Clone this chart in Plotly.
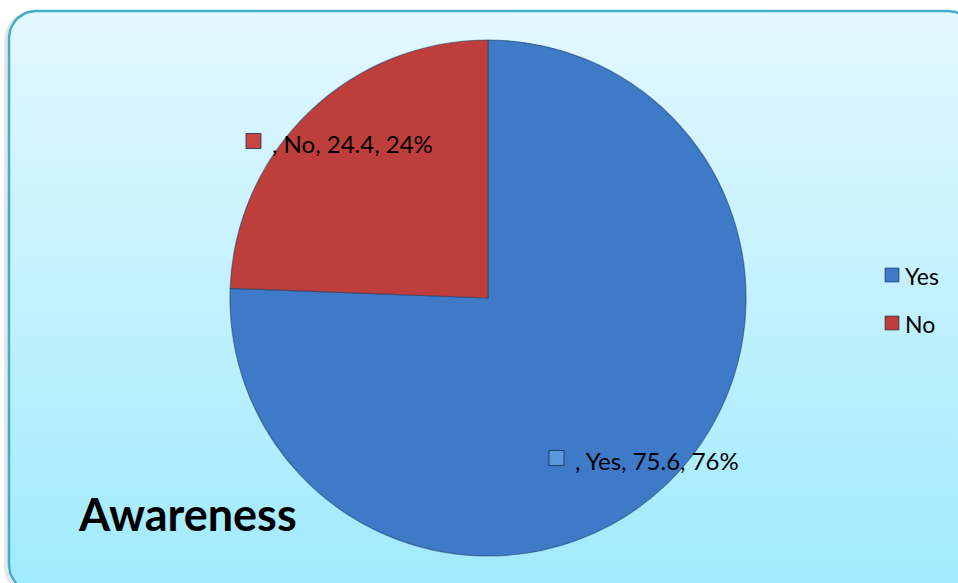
import plotly.graph_objects as go
import numpy as np

# ---- data ----
labels = ["Yes", "No"]
values = [75.6, 24.4]
pct_labels = ["76%", "24%"]
colors = ["#3F7AC8", "#BE3E3B"]
marker_colors = ["#5B97DD", "#C94542"]
title_text = "Awareness"

W, H = 958, 583

fig = go.Figure()

# rounded background panel (pixel coordinates on hidden axes)
def rounded_rect(x0, y0, x1, y1, r, n=12):
    xs, ys = [], []
    corners = [
        (x1 - r, y0 + r, -90, 0),
        (x1 - r, y1 - r, 0, 90),
        (x0 + r, y1 - r, 90, 180),
        (x0 + r, y0 + r, 180, 270),
    ]
    for cx, cy, a0, a1 in corners:
        for t in np.linspace(np.radians(a0), np.radians(a1), n):
            xs.append(cx + r * np.cos(t))
            ys.append(cy + r * np.sin(t))
    xs.append(xs[0]); ys.append(ys[0])
    return xs, ys

sx, sy = rounded_rect(6, 13, 973, 594, 27)
fig.add_trace(go.Scatter(x=sx, y=sy, mode="lines", line=dict(color="rgba(0,0,0,0.10)", width=4),
                         hoverinfo="skip", showlegend=False))
bx, by = rounded_rect(9, 11, 975, 592, 27)
fig.add_trace(go.Scatter(
    x=bx, y=by, mode="lines", fill="toself",
    line=dict(color="#42ADC9", width=2.5),
    fillgradient=dict(type="vertical", colorscale=[[0, "#E3F8FF"], [1, "#A0EAFE"]], start=11, stop=592),
    hoverinfo="skip", showlegend=False))

# pie
cx, cy, R = 488, 298, 258
fig.add_trace(go.Pie(
    labels=labels, values=values, sort=False, direction="clockwise", rotation=0,
    marker=dict(colors=colors, line=dict(color="rgba(30,60,100,0.55)", width=1.2)),
    textinfo="none", hoverinfo="label+value+percent", showlegend=False,
    domain=dict(x=[(cx - R) / W, (cx + R) / W], y=[(H - cy - R) / H, (H - cy + R) / H]),
))

FONT = "Lato, 'Open Sans', sans-serif"
shapes = []
annotations = []

# data labels
label_pos = [(549, 458), (246, 141)]
for (lx, ly), lab, v, p, c in zip(label_pos, labels, values, pct_labels, marker_colors):
    shapes.append(dict(type="rect", xref="x", yref="y", x0=lx, x1=lx + 15, y0=ly - 7.5, y1=ly + 7.5,
                       fillcolor=c, line=dict(color="rgba(20,40,70,0.75)", width=1)))
    annotations.append(dict(xref="x", yref="y", x=lx + 24, y=ly + 2, xanchor="left", yanchor="middle",
                            text=f", {lab}, {v}, {p}", showarrow=False,
                            font=dict(family=FONT, size=24, color="#000000")))

# legend
leg_pos = [275, 323]
for ly, lab, c in zip(leg_pos, labels, colors):
    shapes.append(dict(type="rect", xref="x", yref="y", x0=885, x1=899, y0=ly - 7, y1=ly + 7,
                       fillcolor=c, line=dict(color="rgba(20,40,70,0.6)", width=1)))
    annotations.append(dict(xref="x", yref="y", x=903, y=ly + 1, xanchor="left", yanchor="middle",
                            text=lab, showarrow=False,
                            font=dict(family=FONT, size=23, color="#000000")))

# title
annotations.append(dict(xref="x", yref="y", x=76, y=514, xanchor="left", yanchor="middle",
                        text=f"<b>{title_text}</b>", showarrow=False,
                        font=dict(family=FONT, size=45, color="#000000")))

fig.update_layout(
    width=W, height=H, margin=dict(l=0, r=0, t=0, b=0),
    paper_bgcolor="#FFFFFF", plot_bgcolor="rgba(0,0,0,0)",
    xaxis=dict(range=[0, W], visible=False, fixedrange=True),
    yaxis=dict(range=[H, 0], visible=False, fixedrange=True),
    shapes=shapes, annotations=annotations, showlegend=False,
)

fig.write_html("out.html")
